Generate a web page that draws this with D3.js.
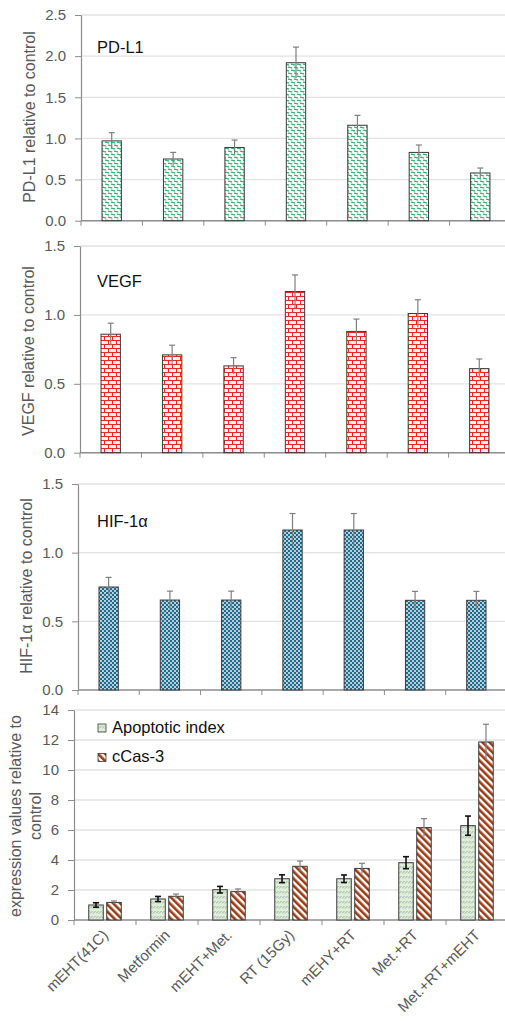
<!DOCTYPE html>
<html>
<head>
<meta charset="utf-8">
<script src="https://cdn.jsdelivr.net/npm/d3@7"></script>
<style>
  body { margin: 0; background: #fff; }
  text { font-family: "Liberation Sans", Arial, sans-serif; }
</style>
</head>
<body>
<div id="plot"></div>
<script>
// Categories (shared by all four panels)
const categories = ["mEHT(41C)", "Metformin", "mEHT+Met.", "RT (15Gy)", "mEHY+RT", "Met.+RT", "Met.+RT+mEHT"];

// PD-L1 panel
const pdl1 = [0.97, 0.75, 0.89, 1.92, 1.16, 0.83, 0.58];
const pdl1Err = [0.10, 0.08, 0.09, 0.19, 0.12, 0.09, 0.06];
const pdl1Ticks = [0, 0.5, 1.0, 1.5, 2.0, 2.5];

// VEGF panel
const vegf = [0.86, 0.71, 0.63, 1.17, 0.88, 1.01, 0.61];
const vegfErr = [0.08, 0.07, 0.06, 0.12, 0.09, 0.10, 0.07];
const vegfTicks = [0, 0.5, 1.0, 1.5];

// HIF-1a panel
const hif = [0.75, 0.655, 0.655, 1.165, 1.165, 0.653, 0.653];
const hifErr = [0.07, 0.065, 0.065, 0.12, 0.12, 0.065, 0.065];
const hifTicks = [0, 0.5, 1.0, 1.5];

// Apoptosis panel
const apoptotic = [1.0, 1.4, 2.02, 2.75, 2.75, 3.82, 6.29];
const apoptoticErr = [0.15, 0.17, 0.22, 0.26, 0.25, 0.4, 0.64];
const cas3 = [1.17, 1.58, 1.89, 3.58, 3.44, 6.16, 11.87];
const cas3Err = [0.1, 0.15, 0.18, 0.35, 0.34, 0.6, 1.18];
const apoTicks = [0, 2, 4, 6, 8, 10, 12, 14];

const W = 505, H = 1021;
const gray = "#595959";

const svg = d3.select("#plot")
  .append("svg")
  .attr("width", W)
  .attr("height", H);

// Fill patterns
const defs = svg.append("defs");

const wave = defs.append("pattern")
  .attr("id", "wave").attr("patternUnits", "userSpaceOnUse")
  .attr("width", 6).attr("height", 6);
wave.append("rect").attr("width", 6).attr("height", 6).attr("fill", "#fff");
wave.append("path")
  .attr("d", "M0,1.5 C1.5,0 2.5,3 4,1.5 M3,4.5 C4.5,3 5.5,6 7,4.5 M-3,4.5 C-1.5,3 -0.5,6 1,4.5")
  .attr("fill", "none").attr("stroke", "#27a866").attr("stroke-width", 1.1);

const brick = defs.append("pattern")
  .attr("id", "brick").attr("patternUnits", "userSpaceOnUse")
  .attr("width", 8).attr("height", 8);
brick.append("rect").attr("width", 8).attr("height", 8).attr("fill", "#fdeeee");
brick.append("path")
  .attr("d", "M0,0.5 H8 M0,4.5 H8 M0.5,0.5 V4.5 M4.5,4.5 V8.5")
  .attr("fill", "none").attr("stroke", "#e8262c").attr("stroke-width", 1);

const dots = defs.append("pattern")
  .attr("id", "dots").attr("patternUnits", "userSpaceOnUse")
  .attr("width", 4).attr("height", 4);
dots.append("rect").attr("width", 4).attr("height", 4).attr("fill", "#1f6b8e");
dots.append("circle").attr("cx", 1).attr("cy", 1).attr("r", 0.9).attr("fill", "#fff");
dots.append("circle").attr("cx", 3).attr("cy", 3).attr("r", 0.9).attr("fill", "#fff");

const dash = defs.append("pattern")
  .attr("id", "dash").attr("patternUnits", "userSpaceOnUse")
  .attr("width", 6).attr("height", 5);
dash.append("rect").attr("width", 6).attr("height", 5).attr("fill", "#dcf0d4");
dash.append("path")
  .attr("d", "M0,3.5 L2.5,1 M3,3.5 L5.5,1")
  .attr("stroke", "#9a9ab4").attr("stroke-width", 0.9);

const stripe = defs.append("pattern")
  .attr("id", "stripe").attr("patternUnits", "userSpaceOnUse")
  .attr("width", 5).attr("height", 5)
  .attr("patternTransform", "rotate(-45)");
stripe.append("rect").attr("width", 5).attr("height", 5).attr("fill", "#fff");
stripe.append("rect").attr("width", 2.6).attr("height", 5).attr("fill", "#9c3a12");

// Generic panel drawer
function panel(cfg) {
  const g = svg.append("g");
  const x = d3.scaleBand().domain(categories).range([cfg.left, cfg.right]);
  const y = d3.scaleLinear().domain([0, cfg.max]).range([cfg.bottom, cfg.top]);

  // gridlines
  g.selectAll(".grid").data(cfg.ticks.filter(t => t > 0)).enter()
    .append("line")
    .attr("x1", cfg.left).attr("x2", cfg.right)
    .attr("y1", d => y(d)).attr("y2", d => y(d))
    .attr("stroke", "#e2e2e2").attr("stroke-width", 1.3);

  // y axis
  const yAxis = g.append("g")
    .attr("transform", `translate(${cfg.left},0)`)
    .call(d3.axisLeft(y).tickValues(cfg.ticks).tickFormat(cfg.fmt).tickSize(6).tickSizeOuter(0).tickPadding(9));
  yAxis.select(".domain").attr("stroke", "#8c8c8c").attr("stroke-width", 1.2);
  yAxis.selectAll(".tick line").attr("stroke", "#8c8c8c");
  yAxis.selectAll("text").attr("fill", gray).style("font-size", "15px")
    .style("font-family", "'Liberation Sans', Arial, sans-serif");

  // x axis (ticks between categories)
  const xAxis = g.append("g").attr("transform", `translate(0,${cfg.bottom})`);
  xAxis.append("line").attr("x1", cfg.left).attr("x2", cfg.right)
    .attr("stroke", "#8c8c8c").attr("stroke-width", 1.5);
  xAxis.selectAll(".xt").data(categories).enter().append("line")
    .attr("x1", d => x(d)).attr("x2", d => x(d))
    .attr("y1", 0).attr("y2", 5)
    .attr("stroke", "#8c8c8c");

  // bars
  cfg.series.forEach((s, si) => {
    const bw = x.step() * s.width;
    const off = s.offset * x.step();
    g.selectAll(".bar" + si).data(s.values).enter()
      .append("rect")
      .attr("x", (d, i) => x(categories[i]) + x.bandwidth() / 2 + off - bw / 2)
      .attr("y", d => y(d))
      .attr("width", bw)
      .attr("height", d => cfg.bottom - y(d))
      .attr("fill", `url(#${s.pattern})`)
      .attr("stroke", "#3a3a3a").attr("stroke-width", 1);

    // error bars
    const eb = g.selectAll(".err" + si).data(s.values).enter().append("g")
      .attr("transform", (d, i) => `translate(${x(categories[i]) + x.bandwidth() / 2 + off},0)`);
    eb.append("line")
      .attr("y1", (d, i) => y(d + s.err[i]))
      .attr("y2", (d, i) => y(d - s.err[i]))
      .attr("stroke", s.errColor).attr("stroke-width", s.errWidth);
    eb.append("line")
      .attr("x1", -3).attr("x2", 3)
      .attr("y1", (d, i) => y(d + s.err[i]))
      .attr("y2", (d, i) => y(d + s.err[i]))
      .attr("stroke", s.errColor).attr("stroke-width", s.errWidth);
    if (s.bothCaps) {
      eb.append("line")
        .attr("x1", -3).attr("x2", 3)
        .attr("y1", (d, i) => y(d - s.err[i]))
        .attr("y2", (d, i) => y(d - s.err[i]))
        .attr("stroke", s.errColor).attr("stroke-width", s.errWidth);
    }
  });

  // panel name
  if (cfg.name) {
    g.append("text").attr("x", 97).attr("y", cfg.nameY)
      .style("font-size", "16.5px").attr("fill", "#111").text(cfg.name);
  }

  // y title
  const lines = cfg.title;
  const ty = g.append("text")
    .attr("transform", `translate(${cfg.titleX},${cfg.titleY}) rotate(-90)`)
    .attr("text-anchor", "middle")
    .attr("fill", gray)
    .style("font-size", "16px");
  lines.forEach((l, i) => {
    ty.append("tspan").attr("x", 0).attr("dy", i === 0 ? 0 : "1.3em").text(l);
  });

  return { g, x, y };
}

const single = pattern => vals => errs => [{
  values: vals, err: errs, pattern: pattern, width: 0.315, offset: 0,
  errColor: "#7f7f7f", errWidth: 1.2, bothCaps: false
}];

panel({
  left: 81, right: 511, top: 15, bottom: 220.7, max: 2.5,
  ticks: pdl1Ticks, fmt: d3.format(".1f"),
  series: single("wave")(pdl1)(pdl1Err),
  name: "PD-L1", nameY: 53,
  title: ["PD-L1 relative to control"], titleX: 34.5, titleY: 117
});

panel({
  left: 80, right: 510, top: 246, bottom: 452.7, max: 1.5,
  ticks: vegfTicks, fmt: d3.format(".1f"),
  series: single("brick")(vegf)(vegfErr),
  name: "VEGF", nameY: 287,
  title: ["VEGF relative to control"], titleX: 33.5, titleY: 351
});

panel({
  left: 78, right: 507, top: 484, bottom: 690, max: 1.5,
  ticks: hifTicks, fmt: d3.format(".1f"),
  series: single("dots")(hif)(hifErr),
  name: "HIF-1α", nameY: 527,
  title: ["HIF-1α relative to control"], titleX: 31.5, titleY: 586
});

const apo = panel({
  left: 74, right: 508, top: 710, bottom: 920, max: 14,
  ticks: apoTicks, fmt: d3.format("d"),
  series: [
    { values: apoptotic, err: apoptoticErr, pattern: "dash", width: 0.234, offset: -0.145,
      errColor: "#111", errWidth: 1.6, bothCaps: true },
    { values: cas3, err: cas3Err, pattern: "stripe", width: 0.234, offset: 0.145,
      errColor: "#7f7f7f", errWidth: 1.2, bothCaps: false }
  ],
  name: null,
  title: ["expression values relative to", "control"], titleX: 20.5, titleY: 816
});

// legend
const legendItems = [
  { label: "Apoptotic index", pattern: "dash" },
  { label: "cCas-3", pattern: "stripe" }
];
const lg = svg.append("g");
legendItems.forEach((it, i) => {
  const yy = 724 + i * 29.5;
  lg.append("rect").attr("x", 98).attr("y", yy).attr("width", 8).attr("height", 8)
    .attr("fill", `url(#${it.pattern})`).attr("stroke", "#3a3a3a").attr("stroke-width", 0.8);
  lg.append("text").attr("x", 112).attr("y", yy + 8.5)
    .style("font-size", "16.5px").attr("fill", "#111").text(it.label);
});

// rotated category labels
svg.append("g").selectAll("text").data(categories).enter()
  .append("text")
  .attr("transform", d => `translate(${apo.x(d) + apo.x.bandwidth() / 2 + 4},936) rotate(-45)`)
  .attr("text-anchor", "end")
  .attr("fill", gray)
  .style("font-size", "15px")
  .text(d => d);
</script>
</body>
</html>
